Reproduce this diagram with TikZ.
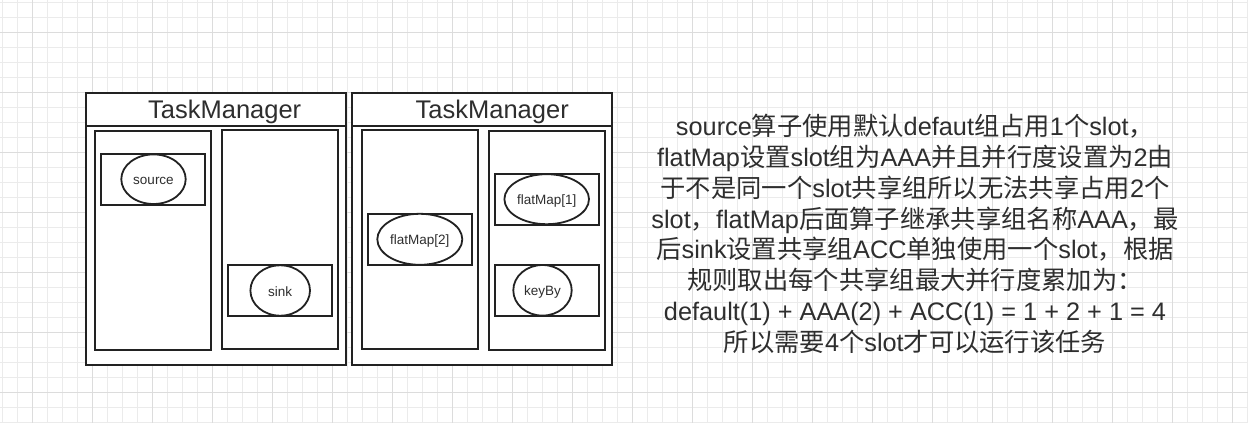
\documentclass[tikz,border=0pt]{standalone}
\usepackage{fontspec}
\usetikzlibrary{shapes.geometric}
\setmainfont{Liberation Sans}
\newfontfamily\cjk{Noto Sans CJK SC}
\definecolor{gminor}{HTML}{EBEBEB}
\definecolor{gmajor}{HTML}{DCDCDC}
\definecolor{stroke}{HTML}{222222}
\definecolor{ink}{HTML}{2E2E2E}
\tikzset{
  minorline/.style={draw=gminor, line width=1pt},
  majorline/.style={draw=gmajor, line width=1pt},
  tmbox/.style={draw=stroke, line width=2pt, fill=white},
  slotbox/.style={draw=stroke, line width=2pt, fill=white},
  oprect/.style={draw=stroke, line width=2pt, fill=white},
  opell/.style={draw=stroke, line width=1.8pt, fill=white, ellipse, inner sep=0pt},
  optext/.style={text=ink, inner sep=0pt, anchor=base, font=\fontsize{13.5}{16}\selectfont},
  title/.style={text=ink, inner sep=0pt, anchor=base, font=\fontsize{25.5}{30}\selectfont},
  txt/.style={text=ink, inner sep=0pt, anchor=base, font=\fontsize{25.3}{31}\selectfont},
}
\begin{document}
\begin{tikzpicture}[x=1pt,y=-1pt]
\useasboundingbox (0,0) rectangle (1248,423);
\fill[white] (0,0) rectangle (1248,423);
% grid
\foreach \i in {0,...,83} {\draw[minorline] ({2.3+15*\i},0) -- ++(0,423);}
\foreach \i in {0,...,28} {\draw[minorline] (0,{2.3+15*\i}) -- ++(1248,0);}
\foreach \i in {0,...,20} {\draw[majorline] ({32.3+60*\i},0) -- ++(0,423);}
\foreach \i in {0,...,6} {\draw[majorline] (0,{32.3+60*\i}) -- ++(1248,0);}

% TaskManager 1
\draw[tmbox] (86,93) rectangle (346,365);
\draw[draw=stroke, line width=2pt] (86,126) -- (346,126);
\node[title] (t1) at (224.7,118.3) {TaskManager};
\draw[slotbox] (94.7,131) rectangle (210.7,350);
\draw[slotbox] (222,130) rectangle (338.3,349);
\draw[oprect] (100.7,154) rectangle (205.3,204.7);
\node[opell, minimum width=64.4pt, minimum height=49.6pt] (src) at (153.5,179.2) {};
\node[optext] at ([yshift=-5.5pt]src.center) {source};
\draw[oprect] (227.7,265) rectangle (332.3,315.7);
\node[opell, minimum width=59.6pt, minimum height=50.4pt] (snk) at (280.2,290.5) {};
\node[optext] at ([yshift=-5.5pt]snk.center) {sink};

% TaskManager 2
\draw[tmbox] (351.7,93) rectangle (611.7,365);
\draw[draw=stroke, line width=2pt] (351.7,126) -- (611.7,126);
\node[title] (t2) at (492.2,118.3) {TaskManager};
\draw[slotbox] (361.7,130) rectangle (478.3,349);
\draw[slotbox] (489,131) rectangle (605,350);
\draw[oprect] (367.7,213.7) rectangle (472,265);
\node[opell, minimum width=85pt, minimum height=51pt] (fm2) at (419.8,239.3) {};
\node[optext] at ([yshift=-5.3pt]fm2.center) {flatMap[2]};
\draw[oprect] (494.7,173.7) rectangle (599,224.7);
\node[opell, minimum width=84.6pt, minimum height=50pt] (fm1) at (546.7,199.2) {};
\node[optext] at ([yshift=-5.3pt]fm1.center) {flatMap[1]};
\draw[oprect] (494.7,265) rectangle (599,315.7);
\node[opell, minimum width=58.4pt, minimum height=50.6pt] (kb) at (542.5,290.3) {};
\node[optext] at ([yshift=-5.3pt]kb.center) {keyBy};

% description
\node[txt] (l1) at (915,135.3) {source{\cjk 算子使用默认}defaut{\cjk 组占用}1{\cjk 个}slot{\cjk ，}};
\node[txt] (l2) at (915,166.2) {flatMap{\cjk 设置}slot{\cjk 组为}AAA{\cjk 并且并行度设置为}2{\cjk 由}};
\node[txt] (l3) at (915,197.1) {{\cjk 于不是同一个}slot{\cjk 共享组所以无法共享占用}2{\cjk 个}};
\node[txt] (l4) at (915,228.0) {slot{\cjk ，}flatMap{\cjk 后面算子继承共享组名称}AAA{\cjk ，最}};
\node[txt] (l5) at (915,258.9) {{\cjk 后}sink{\cjk 设置共享组}ACC{\cjk 单独使用一个}slot{\cjk ，根据}};
\node[txt] (l6) at (915,289.8) {{\cjk 规则取出每个共享组最大并行度累加为：}};
\node[txt] (l7) at (915,320.7) {default(1) + AAA(2) + ACC(1) = 1 + 2 + 1 = 4};
\node[txt] (l8) at (915,351.6) {{\cjk 所以需要}4{\cjk 个}slot{\cjk 才可以运行该任务}};
\end{tikzpicture}
\end{document}
